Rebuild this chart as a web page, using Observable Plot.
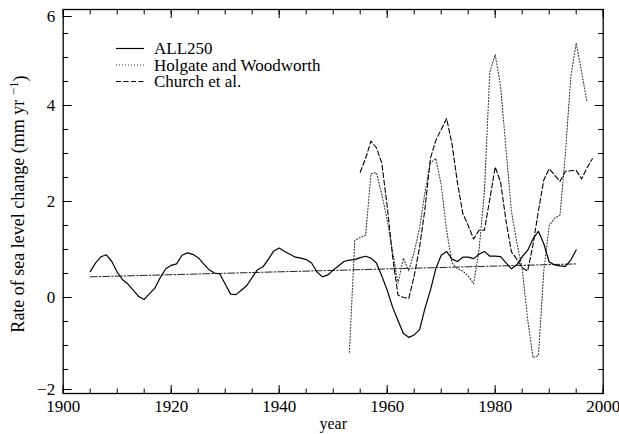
<!DOCTYPE html>
<html><head><meta charset="utf-8">
<script src="https://cdn.jsdelivr.net/npm/d3@7"></script>
<script src="https://cdn.jsdelivr.net/npm/@observablehq/plot@0.6"></script>
<style>body{margin:0;background:#fff} svg{display:block}</style>
</head><body><div id="chart"></div>
<script>
// ---- data ----
const seriesNames = ["ALL250", "Holgate and Woodworth", "Church et al."];
const all250Start = 1905;
const all250 = [0.54,0.72,0.85,0.89,0.75,
  0.53,0.37,0.28,0.15,0.02,-0.04,0.08,0.20,0.42,0.60,
  0.67,0.70,0.88,0.93,0.90,0.83,0.70,0.58,0.51,0.49,
  0.28,0.07,0.06,0.15,0.25,0.42,0.58,0.64,0.80,0.97,
  1.03,0.96,0.90,0.84,0.82,0.79,0.72,0.53,0.43,0.47,
  0.57,0.66,0.75,0.78,0.79,0.83,0.86,0.82,0.72,0.45,
  0.15,-0.20,-0.48,-0.75,-0.83,-0.78,-0.67,-0.22,0.15,0.60,
  0.88,0.96,0.80,0.75,0.84,0.84,0.81,0.90,0.96,0.86,
  0.86,0.85,0.72,0.60,0.68,0.85,0.98,1.22,1.38,1.12,
  0.74,0.68,0.66,0.65,0.78,0.99];
const holgateStart = 1953;
const holgate = [-1.14,1.19,1.25,1.30,2.58,2.60,2.15,
  1.62,0.95,0.30,0.82,0.55,0.95,1.45,2.20,2.80,2.90,
  2.35,1.40,0.72,0.60,0.55,0.45,0.29,0.98,2.20,4.70,
  5.06,4.40,3.10,1.80,1.15,0.60,-0.45,-1.25,-1.21,0.56,
  1.50,1.65,1.72,3.00,4.60,5.30,4.70,4.07];
const churchStart = 1955;
const church = [2.61,2.90,3.26,3.12,2.80,
  1.90,0.85,0.05,0.00,-0.02,0.45,1.05,1.85,2.90,3.27,
  3.50,3.73,3.20,2.40,1.75,1.50,1.22,1.40,1.40,2.05,
  2.72,2.40,1.60,0.95,0.80,0.62,0.55,1.10,1.80,2.45,
  2.68,2.55,2.42,2.63,2.64,2.65,2.47,2.70,2.89];
const trendYears = [1905, 1995];
const trendValues = [0.43, 0.70];
const xMajorTicks = [1900, 1920, 1940, 1960, 1980, 2000];
const xMinorTicks = d3.range(1900, 2001, 5);
const yMajorTicks = [-2, 0, 2, 4, 6];
const yMinorTicks = d3.range(-2, 6.01, 0.5);
const xLabel = "year";
const yLabelMain = "Rate of sea level change (mm yr ";
const yLabelSup = "−1";

const toRows = (start, vals) => vals.map((v, i) => ({year: start + i, value: v}));
const all250Rows = toRows(all250Start, all250);
const holgateRows = toRows(holgateStart, holgate);
const churchRows = toRows(churchStart, church);
const trendRows = trendYears.map((y, i) => ({year: y, value: trendValues[i]}));

const serif = "Liberation Serif, Times New Roman, serif";
const styles = [
  {stroke: "#000", strokeWidth: 1.2, dash: null},
  {stroke: "#333", strokeWidth: 1.1, dash: "1,2"},
  {stroke: "#000", strokeWidth: 1.1, dash: "5,2.5"}
];
const fmt = d => d < 0 ? "−" + Math.abs(d) : String(d);

const plot = Plot.plot({
  width: 619, height: 434,
  marginLeft: 62.7, marginRight: 16.3, marginTop: 9, marginBottom: 41,
  style: {fontFamily: serif, fontSize: "17px", background: "white", color: "black"},
  x: {domain: [1900, 2000], label: null},
  y: {domain: [-2, 6], label: null},
  marks: [
    Plot.axisX({ticks: xMajorTicks, tickSize: -8, tickPadding: 14, tickFormat: d => String(d)}),
    Plot.axisX({ticks: xMinorTicks, tickSize: -4.5, tickFormat: () => ""}),
    Plot.axisX({anchor: "top", ticks: xMajorTicks, tickSize: -8, tickFormat: () => ""}),
    Plot.axisX({anchor: "top", ticks: xMinorTicks, tickSize: -4.5, tickFormat: () => ""}),
    Plot.axisY({ticks: [0, 2, 4], tickSize: -9, tickPadding: 17, tickFormat: fmt}),
    Plot.axisY({ticks: [6], tickSize: -9, tickPadding: 17, dy: 7, tickFormat: fmt}),
    Plot.axisY({ticks: [-2], tickSize: -9, tickPadding: 17, dy: -4, tickFormat: fmt}),
    Plot.axisY({ticks: yMinorTicks, tickSize: -5.5, tickFormat: () => ""}),
    Plot.axisY({anchor: "right", ticks: yMajorTicks, tickSize: -9, tickFormat: () => ""}),
    Plot.axisY({anchor: "right", ticks: yMinorTicks, tickSize: -5.5, tickFormat: () => ""}),
    Plot.line(trendRows, {x: "year", y: "value", stroke: "#222", strokeWidth: 1, strokeDasharray: "7,2,1.5,2"}),
    Plot.line(holgateRows, {x: "year", y: "value", stroke: styles[1].stroke, strokeWidth: styles[1].strokeWidth, strokeDasharray: styles[1].dash}),
    Plot.line(churchRows, {x: "year", y: "value", stroke: styles[2].stroke, strokeWidth: styles[2].strokeWidth, strokeDasharray: styles[2].dash}),
    Plot.line(all250Rows, {x: "year", y: "value", stroke: styles[0].stroke, strokeWidth: styles[0].strokeWidth}),
    Plot.frame({stroke: "black", strokeWidth: 1.3}),
    Plot.text([xLabel], {frameAnchor: "bottom", dy: 35, fontSize: 16})
  ]
});

const svg = d3.select(plot);
// y-axis label with superscript
const lab = svg.append("text")
  .attr("transform", "translate(24,204) rotate(-90)")
  .attr("text-anchor", "middle")
  .attr("font-family", serif)
  .attr("font-size", 18)
  .attr("fill", "black");
lab.append("tspan").text(yLabelMain);
lab.append("tspan").attr("dy", "-0.45em").attr("font-size", 13).text(yLabelSup);
lab.append("tspan").attr("dy", "0.45em").text(")");

// legend
const lg = svg.append("g").attr("font-family", serif).attr("font-size", 17).attr("text-anchor", "start");
const rowY = [48.5, 65, 81.5];
seriesNames.forEach((name, i) => {
  const s = styles[i];
  lg.append("line").attr("x1", 116).attr("x2", 144).attr("y1", rowY[i]).attr("y2", rowY[i])
    .attr("stroke", s.stroke).attr("stroke-width", s.strokeWidth)
    .attr("stroke-dasharray", s.dash);
  lg.append("text").attr("x", 154).attr("y", rowY[i]).attr("dy", "0.35em")
    .attr("text-anchor", "start").attr("fill", "black").text(name);
});

document.getElementById("chart").appendChild(plot);
</script>
</body></html>
